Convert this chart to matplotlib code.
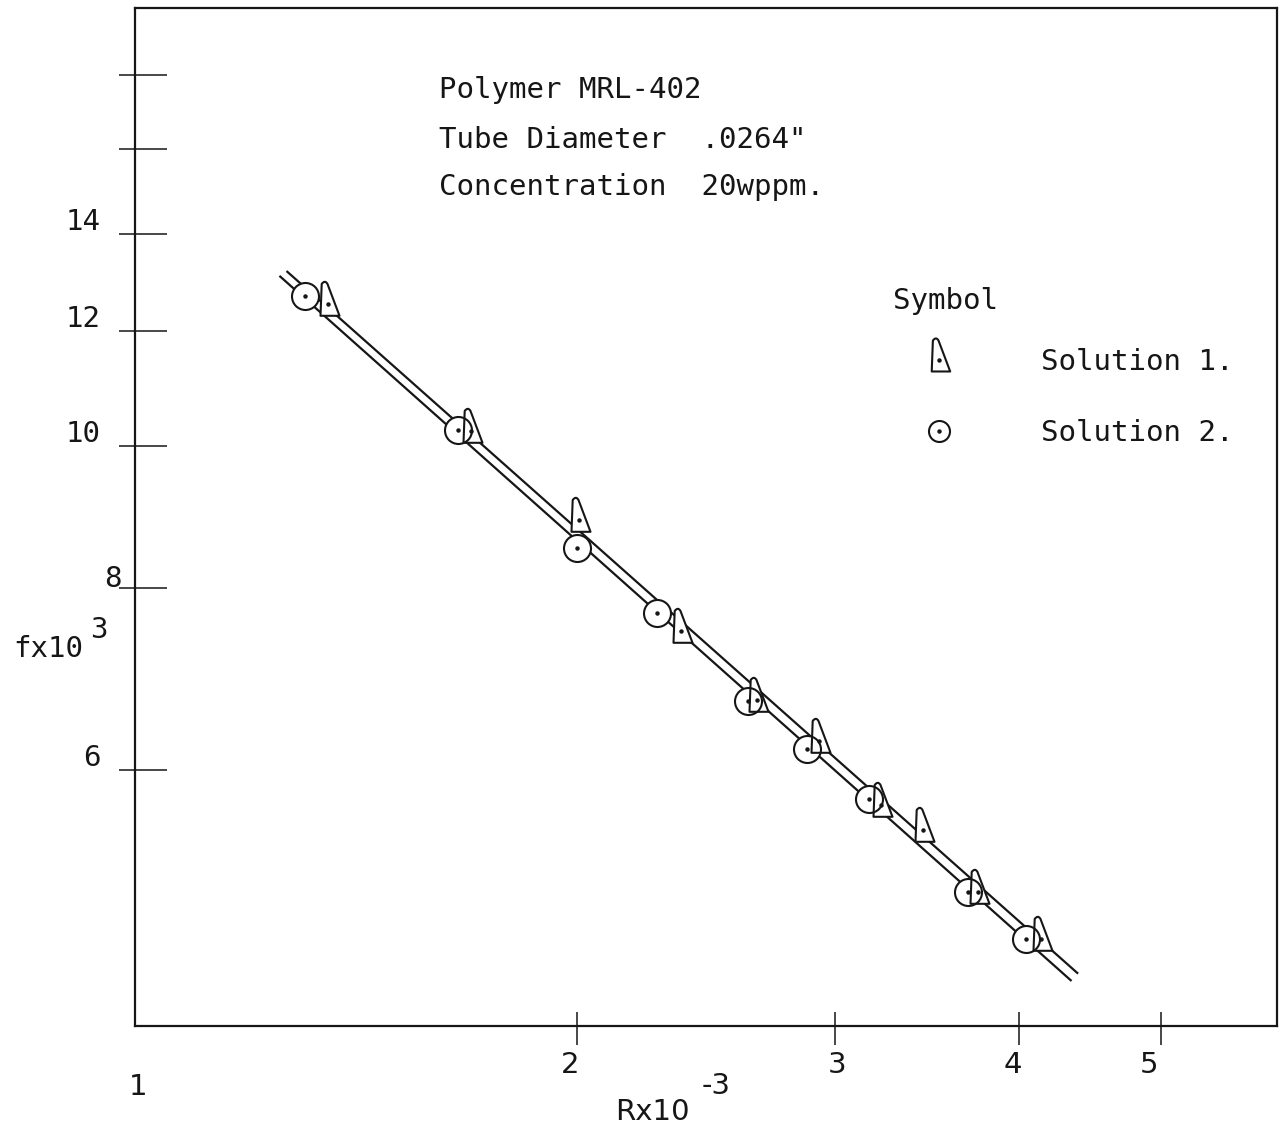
import matplotlib
matplotlib.use("Agg")
import numpy as np
import matplotlib.pyplot as plt
from matplotlib.path import Path
from matplotlib.lines import Line2D
from matplotlib.ticker import FixedLocator, NullFormatter
from matplotlib.transforms import offset_copy

plt.rcParams['font.family'] = ['DejaVu Sans Mono', 'DejaVu Sans']

# Solution 1 (triangles), R x 10^-3 and f x 10^3
R_sol1 = [1.354, 1.694, 2.007, 2.356, 2.654, 2.923, 3.223, 3.445, 3.756, 4.142]
f_sol1 = [12.52, 10.24, 8.90, 7.47, 6.70, 6.28, 5.67, 5.45, 4.94, 4.59]

# Solution 2 (circles)
R_sol2 = [1.306, 1.660, 2.000, 2.270, 2.616, 2.869, 3.165, 3.693, 4.050]
f_sol2 = [12.69, 10.27, 8.51, 7.68, 6.69, 6.20, 5.73, 4.94, 4.59]

# the two straight fit lines, end points
fit1_R = [1.270, 4.386]
fit1_f = [13.18, 4.35]
fit2_R = [1.256, 4.341]
fit2_f = [13.08, 4.30]

ytick_vals = [6, 8, 10, 12, 14, 16, 18]
ytick_text = ['6', '8', '10', '12', '14', '', '']
xtick_vals = [2, 3, 4, 5]
xlabel_vals = [1, 2, 3, 4, 5]
xlabel_text = ['1', '2', '3', '4', '5']
xlabel_nudge = [3, -7, 2, -6, -12]   # px, hand lettering is a bit off

ink = '#161616'
fs = 21

# hand drawn triangle, origin sits on the centre dot
tri_verts = [(-8.0, -11.3), (11.0, -11.3), (-1.0, 20.5),
             (-3.5, 25.0), (-6.8, 20.5), (-8.0, -11.3)]
tri_codes = [Path.MOVETO, Path.LINETO, Path.LINETO,
             Path.CURVE3, Path.CURVE3, Path.CLOSEPOLY]
tri = Path(tri_verts, tri_codes)
tri_ms = 2 * 25.0 * 0.72

fig = plt.figure(figsize=(12.8, 11.31), dpi=100)
ax = fig.add_axes([135 / 1280, 105 / 1131, 1142 / 1280, 1018 / 1131])
ax.set_xscale('log')
ax.set_yscale('log')
ax.set_xlim(1, 6)
ax.set_ylim(4, 20)

for s in ax.spines.values():
    s.set_linewidth(1.6)
    s.set_color(ink)

# ticks cross the spine: long part inside, short part outside
ax.yaxis.set_major_locator(FixedLocator(ytick_vals))
ax.yaxis.set_minor_locator(FixedLocator(ytick_vals))
ax.xaxis.set_major_locator(FixedLocator(xtick_vals))
ax.xaxis.set_minor_locator(FixedLocator(xtick_vals))
ax.yaxis.remove_overlapping_locs = False
ax.xaxis.remove_overlapping_locs = False
ax.xaxis.set_major_formatter(NullFormatter())
ax.xaxis.set_minor_formatter(NullFormatter())
ax.yaxis.set_major_formatter(NullFormatter())
ax.yaxis.set_minor_formatter(NullFormatter())
ax.tick_params(axis='y', which='major', direction='in', length=32 * 0.72, width=1.1, color=ink)
ax.tick_params(axis='y', which='minor', direction='out', length=16 * 0.72, width=1.1, color=ink)
ax.tick_params(axis='x', which='major', direction='in', length=14 * 0.72, width=1.1, color=ink)
ax.tick_params(axis='x', which='minor', direction='out', length=19 * 0.72, width=1.1, color=ink)
ax.tick_params(which='both', top=False, right=False, labelleft=False, labelbottom=False)

# y tick labels sit just above their tick
ytr = ax.get_yaxis_transform()
for v, t in zip(ytick_vals, ytick_text):
    if not t:
        continue
    if t == '8':
        ax.text(-13 / 1142, v, t, transform=offset_copy(ytr, fig=fig, y=1, units='dots'),
                ha='right', va='baseline', fontsize=fs, color=ink)
    else:
        ax.text(-34 / 1142, v, t, transform=offset_copy(ytr, fig=fig, y=4, units='dots'),
                ha='right', va='baseline', fontsize=fs, color=ink)

xtr = ax.get_xaxis_transform()
for v, t, dx in zip(xlabel_vals, xlabel_text, xlabel_nudge):
    dy = -47 if v == 1 else -25
    ax.text(v, 0, t, transform=offset_copy(xtr, fig=fig, x=dx, y=dy, units='dots'),
            ha='center', va='top', fontsize=fs, color=ink, family='DejaVu Sans')

# axis titles
fig.text(13 / 1280, 1 - 657 / 1131, 'fx10', fontsize=fs, color=ink, va='baseline')
fig.text(90 / 1280, 1 - 638 / 1131, '3', fontsize=fs, color=ink, va='baseline')
fig.text(615 / 1280, 1 - 1120 / 1131, 'Rx10', fontsize=fs, color=ink, va='baseline',
         family='DejaVu Sans')
fig.text(702 / 1280, 1 - 1094 / 1131, '-3', fontsize=fs, color=ink, va='baseline',
         family='DejaVu Sans')

# fit lines
ax.plot(fit1_R, fit1_f, color=ink, lw=1.6, zorder=2)
ax.plot(fit2_R, fit2_f, color=ink, lw=1.6, zorder=2)

# markers: triangle fill, circles, triangle outline, centre dots
ax.plot(R_sol1, f_sol1, ls='none', marker=tri, ms=tri_ms, mfc='white', mec='none', zorder=3)
ax.plot(R_sol2, f_sol2, ls='none', marker='o', ms=27 * 0.72, mfc='white', mec=ink, mew=1.5, zorder=4)
ax.plot(R_sol1, f_sol1, ls='none', marker=tri, ms=tri_ms, mfc='none', mec=ink, mew=1.5, zorder=5)
ax.plot(R_sol1, f_sol1, ls='none', marker='o', ms=2.2, color=ink, zorder=6)
ax.plot(R_sol2, f_sol2, ls='none', marker='o', ms=2.2, color=ink, zorder=6)

# notes
tx = (439 - 135) / 1142
ax.text(tx, (1026 - 98) / 1018, 'Polymer MRL-402', transform=ax.transAxes,
        fontsize=fs, color=ink, va='baseline')
ax.text(tx, (1026 - 148) / 1018, 'Tube Diameter  .0264"', transform=ax.transAxes,
        fontsize=fs, color=ink, va='baseline')
ax.text(tx, (1026 - 195) / 1018, 'Concentration  20wppm.', transform=ax.transAxes,
        fontsize=fs, color=ink, va='baseline')

# legend, headed by a plain text line
ax.text((893 - 135) / 1142, (1026 - 309) / 1018, 'Symbol', transform=ax.transAxes,
        fontsize=fs, color=ink, va='baseline')
dot = Line2D([], [], ls='none', marker='o', ms=2.2, color=ink)
h_tri = Line2D([], [], ls='none', marker=tri, ms=tri_ms - 1, mfc='white', mec=ink, mew=1.5)
h_circ = Line2D([], [], ls='none', marker='o', ms=21 * 0.72, mfc='white', mec=ink, mew=1.5)
leg = ax.legend([(h_tri, dot), (h_circ, dot)], ['Solution 1.', 'Solution 2.'],
                loc='upper left',
                bbox_to_anchor=((893 - 135) / 1142, (1026 - 348) / 1018),
                frameon=False, borderpad=0, borderaxespad=0, fontsize=fs,
                handlelength=92 / 29.2, handletextpad=56 / 29.2, labelspacing=1.47)
for t in leg.get_texts():
    t.set_color(ink)

fig.savefig('out.png', dpi=100, facecolor='white')
